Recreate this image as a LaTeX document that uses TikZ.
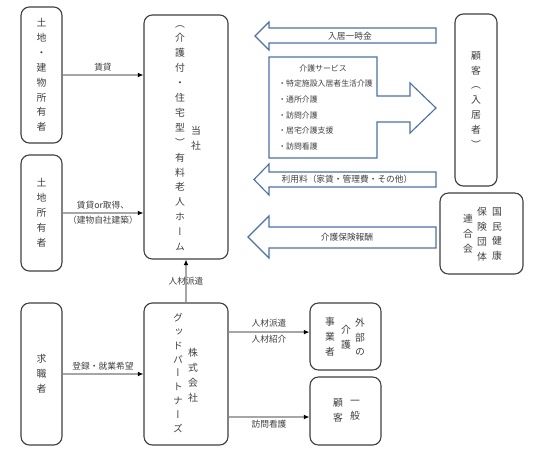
\documentclass[tikz,border=0pt]{standalone}
\usepackage{fontspec}
\setmainfont{Noto Sans CJK JP}
\newfontfamily\tatefont[RawFeature=+vert]{Noto Sans CJK JP}
\usepackage{tikz}
\usetikzlibrary{arrows.meta}

\definecolor{boxline}{HTML}{404040}
\definecolor{arrline}{HTML}{4A6FB5}
\definecolor{connline}{HTML}{A6A6A6}
\definecolor{txt}{HTML}{404040}

\begin{document}
\begin{tikzpicture}[x=0.025cm,y=-0.025cm]
\tikzstyle{every node}+=[inner sep=0pt,text=txt]
\tikzstyle{box}=[draw=boxline,line width=0.8pt,rounded corners=6pt,fill=white]
\tikzstyle{tate}=[align=center,font=\tatefont\fontsize{7pt}{10.6pt}\selectfont]
\tikzstyle{lbl}=[font=\fontsize{6.2pt}{8pt}\selectfont]
\tikzstyle{svc}=[font=\fontsize{5.6pt}{7pt}\selectfont]
\tikzstyle{conn}=[draw=connline,line width=0.9pt,-{Latex[black,length=4pt,width=3.5pt]}]
\tikzstyle{blk}=[draw=arrline,line width=0.8pt,fill=white,line join=miter]
\useasboundingbox (0,0) rectangle (560,460);
\node[box,tate,minimum width=1.025cm,minimum height=3.4cm] (own1) at (41.5,75) {土\\地\\・\\建\\物\\所\\有\\者};
\node[box,tate,minimum width=1.025cm,minimum height=2.9cm] (own2) at (41.5,213) {土\\地\\所\\有\\者};
\node[box,tate,minimum width=1.025cm,minimum height=3.55cm] (seeker) at (41.5,374) {求\\職\\者};
\node[box,minimum width=2.1cm,minimum height=6.1cm] (home) at (186,137) {};
\node[tate] (homename) at (180,138) {（\\介\\護\\付\\・\\住\\宅\\型\\）\\有\\料\\老\\人\\ホ\\ー\\ム};
\node[tate] (tosha) at (196,138) {当\\社};
\node[box,minimum width=2.1cm,minimum height=3.55cm] (gp) at (186,374) {};
\node[tate,font=\tatefont\fontsize{7pt}{9.8pt}\selectfont] (gpname) at (178,373) {グ\\ッ\\ド\\パ\\ー\\ト\\ナ\\ー\\ズ};
\node[tate] (kabu) at (193,375) {株\\式\\会\\社};
\node[box,minimum width=1.775cm,minimum height=1.675cm] (ext) at (345.5,336.5) {};
\node[tate] (ext1) at (360,337) {外\\部\\の};
\node[tate] (ext2) at (346,337) {介\\護};
\node[tate] (ext3) at (330,337) {事\\業\\者};
\node[box,minimum width=1.775cm,minimum height=1.7cm] (gen) at (345.5,411) {};
\node[tate] (gen1) at (355,410.5) {一\\般};
\node[tate] (gen2) at (338,410.5) {顧\\客};
\node[box,tate,minimum width=1.05cm,minimum height=4.3cm] (cust) at (476,100) {顧\\客\\（\\入\\居\\者\\）};
\node[box,minimum width=2.075cm,minimum height=2.025cm] (kokuho) at (481.5,233.5) {};
\node[tate] (koku1) at (497,234) {国\\民\\健\\康};
\node[tate] (koku2) at (482,234) {保\\険\\団\\体};
\node[tate] (koku3) at (468,234) {連\\合\\会};
\draw[conn] (own1.east) -- node[lbl,above=2pt] {賃貸} (home.west |- own1.east);
\draw[conn] (own2.east) -- node[lbl,above=2pt] {賃貸or取得、} node[lbl,below=2pt] {（建物自社建築）} (home.west |- own2.east);
\draw[conn] (seeker.east) -- node[lbl,above=2.5pt] {登録・就業希望} (gp.west |- seeker.east);
\draw[conn] (gp.north) -- node[lbl] {人材派遣} (home.south);
\draw[conn] ([yshift=0.11cm]gp.east |- ext.west) -- node[lbl,above=3pt] {人材派遣} node[lbl,below=2pt] {人材紹介} ([yshift=0.11cm]ext.west);
\draw[conn] ([yshift=-0.15cm]gp.east |- gen.west) -- node[lbl,below=2pt] {訪問看護} ([yshift=-0.15cm]gen.west);
\draw[blk] (436,28) -- (269,28) -- (269,22) -- (255,36) -- (269,50) -- (269,43) -- (436,43) -- cycle;
\node[lbl] (nyukyo) at (350,36) {入居一時金};
\draw[blk] (269,57) -- (377,57) -- (377,96) -- (410,96) -- (410,83) -- (436,108) -- (410,133) -- (410,122) -- (377,122) -- (377,158) -- (269,158) -- cycle;
\node[svc] (svchead) at (323,69) {介護サービス};
\node[svc,anchor=west] (svc1) at (278,84) {・特定施設入居者生活介護};
\node[svc,anchor=west] (svc2) at (278,100) {・通所介護};
\node[svc,anchor=west] (svc3) at (278,116) {・訪問介護};
\node[svc,anchor=west] (svc4) at (278,131) {・居宅介護支援};
\node[svc,anchor=west] (svc5) at (278,147) {・訪問看護};
\draw[blk] (436,172) -- (269,172) -- (269,164) -- (254,179.5) -- (269,195) -- (269,187) -- (436,187) -- cycle;
\node[lbl] (riyo) at (347,179.5) {利用料（家賃・管理費・その他）};
\draw[blk] (436,227) -- (269,227) -- (269,216) -- (248,237) -- (269,258) -- (269,248) -- (436,248) -- cycle;
\node[lbl] (hoshu) at (347,237) {介護保険報酬};
\end{tikzpicture}
\end{document}
